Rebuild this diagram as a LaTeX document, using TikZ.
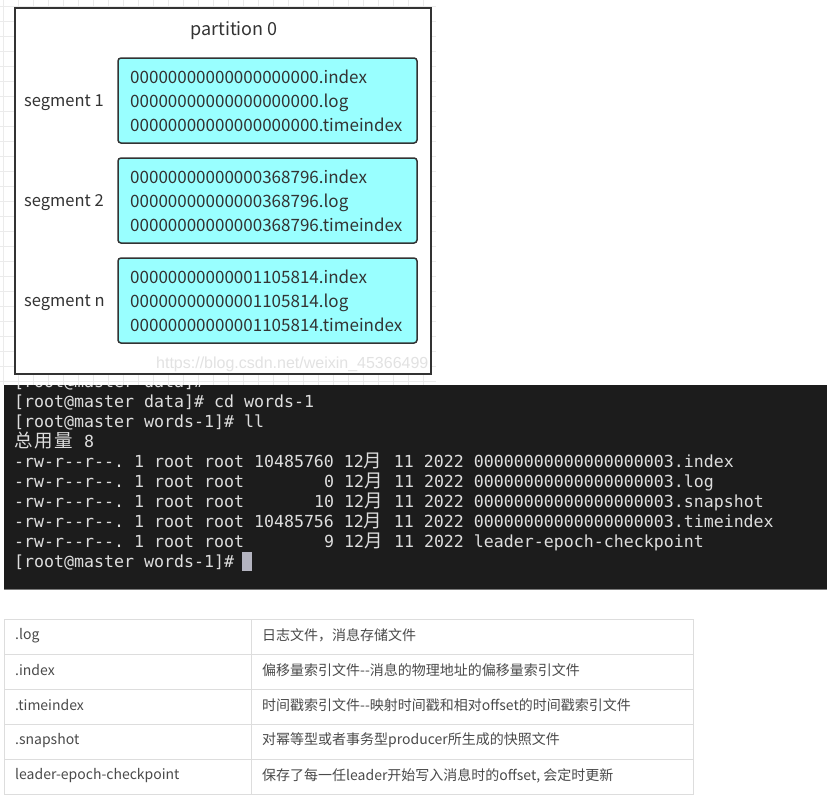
\documentclass[tikz,border=0pt]{standalone}
\usepackage{fontspec}
\setmainfont{Noto Sans CJK SC}
\newfontfamily\cjk{Noto Sans CJK SC}
\setmonofont{DejaVu Sans Mono}
\newfontfamily\wmfont{Liberation Sans}
\definecolor{gridc}{HTML}{EBEBEB}
\definecolor{boxline}{HTML}{333333}
\definecolor{segfill}{HTML}{99FFFF}
\definecolor{txt}{HTML}{333333}
\definecolor{term}{HTML}{1C1C1C}
\definecolor{termtxt}{HTML}{DEDEDE}
\definecolor{termedge}{HTML}{7A7A7A}
\definecolor{cursorc}{HTML}{B4B4C0}
\definecolor{tblline}{HTML}{DDDDDD}
\definecolor{tbltxt}{HTML}{4A4A4A}
\definecolor{wmc}{HTML}{E2E2E2}
\newcommand\tcj[1]{\makebox[20pt][l]{\cjk\fontsize{18.5}{20}\selectfont #1}}
\newcommand\pad{\hspace*{10pt}}
\tikzset{
  segbox/.style={draw=boxline, line width=1.5pt, fill=segfill, rounded corners=3pt,
    minimum width=299pt, minimum height=85pt, inner sep=0pt},
  fname/.style={anchor=base west, inner sep=0pt, text=txt, font=\fontsize{17}{20}\selectfont},
  seglbl/.style={anchor=base west, inner sep=0pt, text=txt, font=\fontsize{16.5}{20}\selectfont},
  tline/.style={anchor=base west, inner sep=0pt, text=termtxt, font=\ttfamily\fontsize{16.6}{20}\selectfont},
  tcell/.style={anchor=west, inner sep=0pt, text=tbltxt, font=\fontsize{14}{16}\selectfont},
}
\begin{document}
\begin{tikzpicture}[x=1pt,y=-1pt]
\useasboundingbox (0,0) rectangle (827,798);
\fill[white] (0,0) rectangle (827,798);
% background grid
\foreach \gx in {3,18,...,433} \draw[gridc, line width=0.8pt] (\gx,0) -- (\gx,385);
\foreach \gy in {6,21,...,381} \draw[gridc, line width=0.8pt] (0,\gy) -- (436,\gy);
% partition box
\node[draw=boxline, line width=1.5pt, fill=white, minimum width=416pt, minimum height=366pt, inner sep=0pt] (part) at (223,191) {};
\node[anchor=base, inner sep=0pt, text=txt, font=\fontsize{18}{20}\selectfont] (ptitle) at (234,35) {partition 0};
% segment 1
\node[segbox] (s1) at (267.5,100.5) {};
\node[seglbl] (l1) at (24,106) {segment 1};
\node[fname] (s1a) at (130,83) {00000000000000000000.index};
\node[fname] (s1b) at (130,107) {00000000000000000000.log};
\node[fname] (s1c) at (130,131) {00000000000000000000.timeindex};
% segment 2
\node[segbox] (s2) at (267.5,200.5) {};
\node[seglbl] (l2) at (24,206) {segment 2};
\node[fname] (s2a) at (130,183) {00000000000000368796.index};
\node[fname] (s2b) at (130,207) {00000000000000368796.log};
\node[fname] (s2c) at (130,231) {00000000000000368796.timeindex};
% segment n
\node[segbox] (sn) at (267.5,300.5) {};
\node[seglbl] (ln) at (24,306) {segment n};
\node[fname] (sna) at (130,283) {00000000000001105814.index};
\node[fname] (snb) at (130,307) {00000000000001105814.log};
\node[fname] (snc) at (130,331) {00000000000001105814.timeindex};
% watermark
\node[anchor=base west, inner sep=0pt, text=wmc, font=\wmfont\fontsize{16}{18}\selectfont] (wm) at (156,368) {https://blog.csdn.net/weixin\_45366499};
% terminal
\fill[term] (4,385) rectangle (827,589);
\draw[termedge, line width=1.5pt] (4,589.5) -- (827,589.5);
\begin{scope}
\clip (4,385) rectangle (827,589);
\node[tline] (t0) at (14,387) {[root@master data]\#};
\end{scope}
\frenchspacing
\node[tline] (t1) at (14,407) {[root@master data]\# cd words-1};
\node[tline] (t2) at (14,427) {[root@master words-1]\# ll};
\node[tline] (t3) at (14,447) {\tcj{总}\tcj{用}\tcj{量}~8};
\node[tline] (t4) at (14,467) {-rw-r-{}-r-{}-.~1~root~root~10485760~12\tcj{月}~11~2022~00000000000000000003.index};
\node[tline] (t5) at (14,487) {-rw-r-{}-r-{}-.~1~root~root~\pad\pad\pad\pad\pad\pad\pad{}0~12\tcj{月}~11~2022~00000000000000000003.log};
\node[tline] (t6) at (14,507) {-rw-r-{}-r-{}-.~1~root~root~\pad\pad\pad\pad\pad\pad{}10~12\tcj{月}~11~2022~00000000000000000003.snapshot};
\node[tline] (t7) at (14,527) {-rw-r-{}-r-{}-.~1~root~root~10485756~12\tcj{月}~11~2022~00000000000000000003.timeindex};
\node[tline] (t8) at (14,547) {-rw-r-{}-r-{}-.~1~root~root~\pad\pad\pad\pad\pad\pad\pad{}9~12\tcj{月}~11~2022~leader-epoch-checkpoint};
\node[tline] (t9) at (14,567) {[root@master words-1]\#};
\fill[cursorc] (242,552) rectangle (252,571);
% table
\draw[tblline, line width=1pt] (4,619) rectangle (693,794);
\foreach \ry in {654,689,724,759} \draw[tblline, line width=1pt] (4,\ry) -- (693,\ry);
\draw[tblline, line width=1pt] (251,619) -- (251,794);
\node[tcell] (k1) at (15,635.5) {.log};
\node[tcell] (v1) at (262,635.5) {日志文件，消息存储文件};
\node[tcell] (k2) at (15,670.5) {.index};
\node[tcell] (v2) at (262,670.5) {偏移量索引文件-{}-消息的物理地址的偏移量索引文件};
\node[tcell] (k3) at (15,705.5) {.timeindex};
\node[tcell] (v3) at (262,705.5) {时间戳索引文件-{}-映射时间戳和相对offset的时间戳索引文件};
\node[tcell] (k4) at (15,740.5) {.snapshot};
\node[tcell] (v4) at (262,740.5) {对幂等型或者事务型producer所生成的快照文件};
\node[tcell] (k5) at (15,775.5) {leader-epoch-checkpoint};
\node[tcell] (v5) at (262,775.5) {保存了每一任leader开始写入消息时的offset, 会定时更新};
\end{tikzpicture}
\end{document}
